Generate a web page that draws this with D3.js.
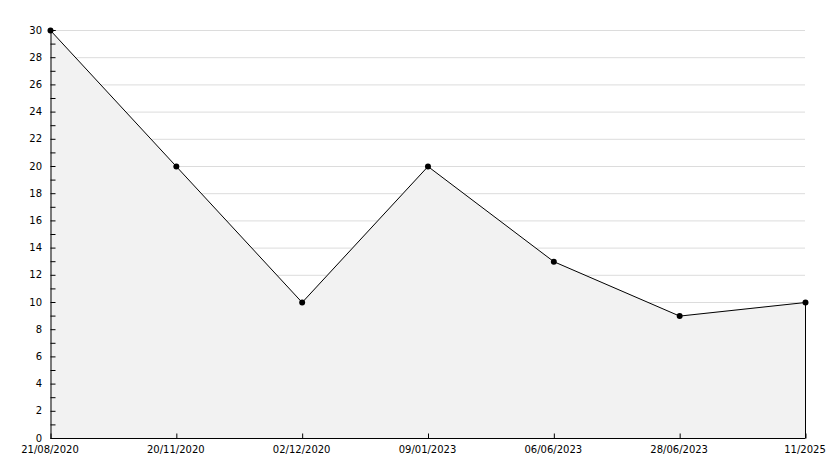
<!DOCTYPE html>
<html><head><meta charset="utf-8">
<script src="https://cdn.jsdelivr.net/npm/d3@7"></script>
<style>body{margin:0;background:#fff}svg{display:block}</style>
</head><body><svg id="c" width="834" height="468"></svg>
<script>
const categories = ["21/08/2020","20/11/2020","02/12/2020","09/01/2023","06/06/2023","28/06/2023","11/2025"];
const values = [30,20,10,20,13,9,10];
const yTickValues = [0,2,4,6,8,10,12,14,16,18,20,22,24,26,28,30];

(function(){
const svg = d3.select("#c");
const mLeft = 50, mRight = 805, mTop = 30, mBottom = 438;
const x = d3.scalePoint().domain(categories).range([mLeft, mRight]);
const y = d3.scaleLinear().domain([0, 30]).range([mBottom, mTop]);
const font = "DejaVu Sans, Verdana, sans-serif";

// grid
svg.append("g").selectAll("line").data(yTickValues.filter(d => d > 0)).join("line")
  .attr("x1", mLeft).attr("x2", mRight)
  .attr("y1", d => y(d) + 0.5).attr("y2", d => y(d) + 0.5)
  .attr("stroke", "#dcdcdc").attr("stroke-width", 1);

const data = categories.map((c, i) => ({c, v: values[i]}));

// area
svg.append("path").datum(data)
  .attr("d", d3.area().x(d => x(d.c)).y0(y(0)).y1(d => y(d.v)))
  .attr("fill", "#f2f2f2");

// right edge
const lastX = x(categories[categories.length-1]) + 0.5;
svg.append("line")
  .attr("x1", lastX).attr("x2", lastX)
  .attr("y1", y(values[values.length-1])).attr("y2", mBottom)
  .attr("stroke", "#000").attr("stroke-width", 1);

// line
svg.append("path").datum(data)
  .attr("d", d3.line().x(d => x(d.c) + 0.5).y(d => y(d.v) + 0.5))
  .attr("fill", "none").attr("stroke", "#000").attr("stroke-width", 1);

// y axis
const yAxis = d3.axisRight(y).tickValues(d3.range(0, 31, 1)).tickSize(5).tickFormat("");
const ya = svg.append("g").attr("transform", `translate(${mLeft + 0.5},0)`).call(yAxis);
ya.select(".domain").attr("stroke", "#000");
ya.selectAll(".tick line").attr("stroke", "#000");
svg.append("g").selectAll("text").data(yTickValues).join("text")
  .attr("x", 42).attr("y", d => y(d)).attr("dy", "0.35em")
  .attr("text-anchor", "end").attr("font-family", font).attr("font-size", 10).attr("fill", "#000")
  .text(d => d);

// x axis
const xAxis = d3.axisTop(x).tickSize(5).tickFormat("");
const xa = svg.append("g").attr("transform", `translate(0.5,${mBottom + 0.5})`).call(xAxis);
xa.select(".domain").attr("d", `M${mLeft},0H${mRight}`).attr("stroke", "#000");
xa.selectAll(".tick line").attr("stroke", "#000");
svg.append("g").selectAll("text").data(categories).join("text")
  .attr("x", d => x(d)).attr("y", 449).attr("dy", "0.35em")
  .attr("text-anchor", "middle").attr("font-family", font).attr("font-size", 10).attr("fill", "#000")
  .text(d => d);

// markers
svg.append("g").selectAll("path").data(data).join("path")
  .attr("transform", d => `translate(${x(d.c) + 0.5},${y(d.v) + 0.5})`)
  .attr("d", d3.symbol(d3.symbolCircle, 28))
  .attr("fill", "#000");
})();
</script></body></html>
